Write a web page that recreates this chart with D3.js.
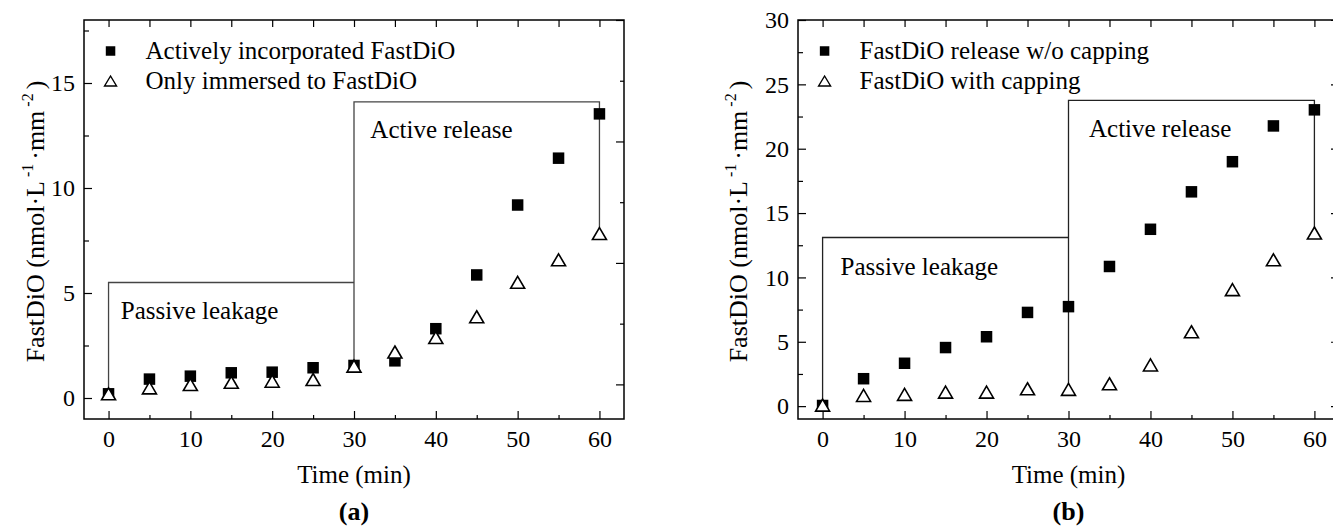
<!DOCTYPE html>
<html>
<head>
<meta charset="utf-8">
<script src="https://cdn.jsdelivr.net/npm/d3@7"></script>
<style>
  body { margin: 0; background: #fff; }
  svg text { font-family: "Liberation Serif", "Times New Roman", serif; fill: #000; }
</style>
</head>
<body>
<script>
"use strict";

// sampling times (min), shared by both panels
const time = [0, 5, 10, 15, 20, 25, 30, 35, 40, 45, 50, 55, 60];

// panel (a)
const activeA = [0.2, 0.9, 1.04, 1.2, 1.23, 1.44, 1.55, 1.77, 3.3, 5.86, 9.19, 11.42, 13.53];
const immersedA = [0.2, 0.48, 0.64, 0.75, 0.8, 0.88, 1.52, 2.19, 2.88, 3.87, 5.51, 6.58, 7.83];
const legendA = ["Actively incorporated FastDiO", "Only immersed to FastDiO"];
const bracketA = [5.5, 14.1]; // heights of the passive / active brackets

// panel (b)
const noCapB = [0.05, 2.13, 3.33, 4.55, 5.39, 7.28, 7.73, 10.85, 13.74, 16.65, 18.99, 21.77, 23.02];
const capB = [0.08, 0.83, 0.91, 1.09, 1.09, 1.35, 1.3, 1.74, 3.2, 5.78, 9.05, 11.37, 13.45];
const legendB = ["FastDiO release w/o capping", "FastDiO with capping"];
const bracketB = [13.1, 23.75];

const xTicks = [0, 10, 20, 30, 40, 50, 60];
const yTicksA = [0, 5, 10, 15];
const yTicksB = [0, 5, 10, 15, 20, 25, 30];
const phaseLabels = ["Passive leakage", "Active release"];

const width = 1333;
const height = 527;

const svg = d3.select("body")
  .append("svg")
  .attr("width", width)
  .attr("height", height);

const panels = [
  {
    left: 84, right: 624, top: 20, bottom: 419,
    yDomain: [-1, 18], yTicks: yTicksA,
    filled: activeA, open: immersedA, legend: legendA, bracket: bracketA,
    lineColor: "#444", titleOffset: 49, tag: "(a)",
    passivePos: [1.5, 3.75], activePos: [32, 12.38],
    // right axis of (a) is drawn on its own odd scale in the original
    rightScale: { domain: [-0.57, 6], ticks: [0, 1, 2, 3, 4, 5, 6] }
  },
  {
    left: 798, right: 1339, top: 20, bottom: 419,
    yDomain: [-1, 30], yTicks: yTicksB,
    filled: noCapB, open: capB, legend: legendB, bracket: bracketB,
    lineColor: "#222", titleOffset: 60, tag: "(b)",
    passivePos: [2.2, 10.22], activePos: [32.5, 20.94],
    rightScale: null
  }
];

function squarePath(s) {
  const h = s / 2;
  return `M${-h},${-h}H${h}V${h}H${-h}Z`;
}

function trianglePath(w, hgt) {
  return `M0,${-hgt / 2}L${w / 2},${hgt / 2}L${-w / 2},${hgt / 2}Z`;
}

function drawPanel(p) {
  const x = d3.scaleLinear().domain([-3, 63]).range([p.left, p.right]);
  const y = d3.scaleLinear().domain(p.yDomain).range([p.bottom, p.top]);

  const g = svg.append("g");

  // ticks (all pointing inwards)
  const minorX = d3.range(5, 61, 10);
  const minorY = d3.range(2.5, p.yDomain[1], 5);

  const bottomMajor = g.append("g")
    .attr("transform", `translate(0,${p.bottom})`)
    .call(d3.axisBottom(x).tickValues(xTicks).tickSizeInner(-8).tickSizeOuter(0).tickPadding(11));
  g.append("g")
    .attr("transform", `translate(0,${p.bottom})`)
    .call(d3.axisBottom(x).tickValues(minorX).tickSizeInner(-4).tickSizeOuter(0).tickFormat(""));

  g.append("g")
    .attr("transform", `translate(0,${p.top})`)
    .call(d3.axisTop(x).tickValues(d3.range(0, 61, 5)).tickSizeInner(-7).tickSizeOuter(0).tickFormat(""));

  g.append("g")
    .attr("transform", `translate(${p.left},0)`)
    .call(d3.axisLeft(y).tickValues(p.yTicks).tickSizeInner(-8).tickSizeOuter(0).tickPadding(9));
  g.append("g")
    .attr("transform", `translate(${p.left},0)`)
    .call(d3.axisLeft(y).tickValues(minorY).tickSizeInner(-5).tickSizeOuter(0).tickFormat(""));

  if (p.rightScale) {
    const yr = d3.scaleLinear().domain(p.rightScale.domain).range([p.bottom, p.top]);
    const rt = p.rightScale.ticks;
    g.append("g")
      .attr("transform", `translate(${p.right},0)`)
      .call(d3.axisRight(yr).tickValues(rt.filter((d) => d % 2 === 0)).tickSizeInner(-8).tickSizeOuter(0).tickFormat(""));
    g.append("g")
      .attr("transform", `translate(${p.right},0)`)
      .call(d3.axisRight(yr).tickValues(rt.filter((d) => d % 2 === 1)).tickSizeInner(-4).tickSizeOuter(0).tickFormat(""));
  } else {
    g.append("g")
      .attr("transform", `translate(${p.right},0)`)
      .call(d3.axisRight(y).tickValues(p.yTicks).tickSizeInner(-8).tickSizeOuter(0).tickFormat(""));
    g.append("g")
      .attr("transform", `translate(${p.right},0)`)
      .call(d3.axisRight(y).tickValues(minorY).tickSizeInner(-5).tickSizeOuter(0).tickFormat(""));
  }

  g.selectAll(".domain").remove();
  g.selectAll(".tick line").attr("stroke", "#000").attr("stroke-width", 1.2);
  g.selectAll(".tick text")
    .attr("font-size", 24)
    .attr("font-family", "Liberation Serif, Times New Roman, serif")
    .attr("fill", "#000");
  bottomMajor.selectAll(".tick text").attr("dy", "0.71em");

  // frame
  g.append("rect")
    .attr("x", p.left)
    .attr("y", p.top)
    .attr("width", p.right - p.left)
    .attr("height", p.bottom - p.top)
    .attr("fill", "none")
    .attr("stroke", "#000")
    .attr("stroke-width", 1.5);

  // phase brackets
  const i30 = time.indexOf(30);
  const i60 = time.indexOf(60);
  const bracket = [
    [[0, p.filled[0]], [0, p.bracket[0]], [30, p.bracket[0]]],
    [[30, p.open[i30]], [30, p.bracket[1]], [60, p.bracket[1]], [60, p.open[i60]]]
  ];
  const line = d3.line().x((d) => x(d[0])).y((d) => y(d[1]));
  g.append("g")
    .selectAll("path")
    .data(bracket)
    .join("path")
    .attr("d", line)
    .attr("fill", "none")
    .attr("stroke", p.lineColor)
    .attr("stroke-width", 1.3);

  g.append("text")
    .attr("x", x(p.passivePos[0]))
    .attr("y", y(p.passivePos[1]))
    .attr("font-size", 25)
    .text(phaseLabels[0]);
  g.append("text")
    .attr("x", x(p.activePos[0]))
    .attr("y", y(p.activePos[1]))
    .attr("font-size", 25)
    .text(phaseLabels[1]);

  // markers
  g.append("g")
    .selectAll("path")
    .data(time.map((t, i) => [t, p.filled[i]]))
    .join("path")
    .attr("transform", (d) => `translate(${x(d[0])},${y(d[1])})`)
    .attr("d", squarePath(11.5))
    .attr("fill", "#000");

  g.append("g")
    .selectAll("path")
    .data(time.map((t, i) => [t, p.open[i]]))
    .join("path")
    .attr("transform", (d) => `translate(${x(d[0])},${y(d[1])})`)
    .attr("d", trianglePath(14, 12))
    .attr("fill", "#fff")
    .attr("stroke", "#000")
    .attr("stroke-width", 1.6);

  // legend
  const lg = g.append("g").attr("transform", `translate(${x(0) + 2},${p.top + 31})`);
  lg.append("path").attr("d", squarePath(9.5)).attr("fill", "#000");
  lg.append("path")
    .attr("transform", "translate(0,30)")
    .attr("d", trianglePath(12, 10))
    .attr("fill", "#fff")
    .attr("stroke", "#000")
    .attr("stroke-width", 1.4);
  lg.selectAll("text")
    .data(p.legend)
    .join("text")
    .attr("x", 35)
    .attr("y", (d, i) => i * 30 + 8)
    .attr("font-size", 25)
    .text((d) => d);

  // axis titles
  const titleX = (x(0) + x(60)) / 2;
  g.append("text")
    .attr("x", titleX)
    .attr("y", 483)
    .attr("text-anchor", "middle")
    .attr("font-size", 25)
    .text("Time (min)");
  g.append("text")
    .attr("x", titleX)
    .attr("y", 520)
    .attr("text-anchor", "middle")
    .attr("font-size", 26)
    .attr("font-weight", "bold")
    .text(p.tag);

  const yt = g.append("text")
    .attr("transform", `translate(${p.left - p.titleOffset},${(p.top + p.bottom) / 2 + 2}) rotate(-90)`)
    .attr("text-anchor", "middle")
    .attr("dy", "0.35em")
    .attr("font-size", 26);
  yt.append("tspan").text("FastDiO (nmol·L");
  yt.append("tspan").attr("font-size", 16).attr("dy", -11).text(" -1 ");
  yt.append("tspan").attr("dy", 11).text("·mm");
  yt.append("tspan").attr("font-size", 16).attr("dy", -11).text(" -2 ");
  yt.append("tspan").attr("dy", 11).text(")");
}

panels.forEach(drawPanel);
</script>
</body>
</html>
